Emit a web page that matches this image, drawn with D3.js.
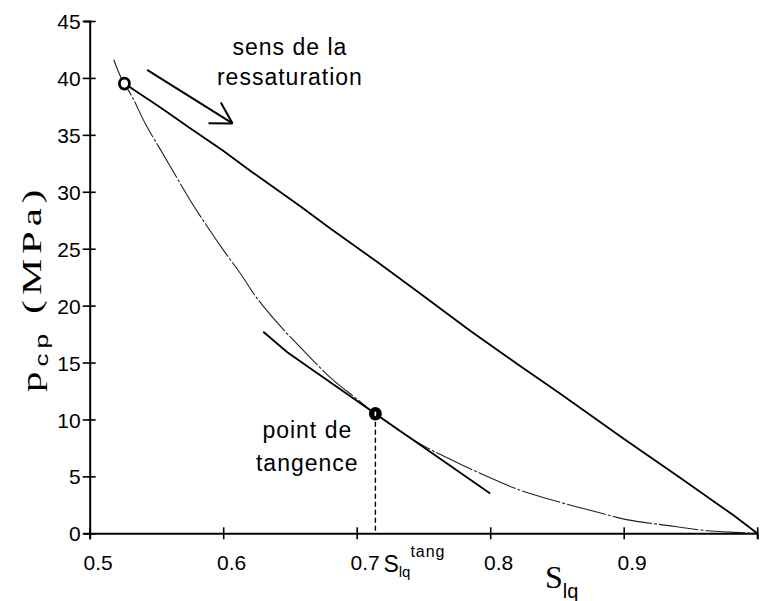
<!DOCTYPE html>
<html><head><meta charset="utf-8">
<script src="https://cdn.jsdelivr.net/npm/d3@7"></script>
<style>body{margin:0;background:#fff}svg{display:block}</style>
</head><body><svg id="c" width="760" height="601"></svg>
<script>
// ---- data ----
const xTicks = [0.5, 0.6, 0.7, 0.8, 0.9, 1.0];
const xTickLabels = ["0.5", "0.6", "0.7", "0.8", "0.9", ""];
const yTicks = [0, 5, 10, 15, 20, 25, 30, 35, 40, 45];

// resaturation path (upper line)
const resatX = [0.526,0.553,0.575,0.600,0.622,0.658,0.680,0.717,0.747,0.785,0.820,0.852,0.900,0.942,0.982,1.000];
const resatY = [39.5,37.4,35.6,33.6,31.7,28.7,26.8,23.7,21.1,17.8,14.9,12.3,8.3,4.9,1.6,0.0];

// thin convex curve
const curveX = [0.518,0.524,0.532,0.542,0.553,0.564,0.575,0.586,0.600,0.613,0.625,0.642,0.663,0.682,0.699,0.714,0.732,0.753,0.772,0.792,0.822,0.847,0.882,0.902,0.932,0.957,0.980,1.000];
const curveY = [41.6,39.9,38.3,35.9,33.7,31.5,29.3,27.3,24.9,22.8,20.7,18.3,15.7,13.5,11.9,10.5,9.0,7.5,6.4,5.3,3.8,2.9,1.8,1.2,0.7,0.3,0.1,0.0];

// tangent line
const tanX = [0.630, 0.648, 0.714, 0.800];
const tanY = [17.7, 15.9, 10.5, 3.5];

// special points
const startPoint = [0.526, 39.5];
const tangPoint = [0.714, 10.5];

// arrow "sens de la ressaturation"
const arrowX = [0.543, 0.607];
const arrowY = [40.7, 36.0];

// ---- layout ----
const svg = d3.select("#c");
const x = d3.scaleLinear().domain([0.5, 1.0]).range([89.7, 757.2]);
const y = d3.scaleLinear().domain([0, 45]).range([533.3, 21]);
const sans = "Arial, 'Liberation Sans', sans-serif";
const serif = "'Times New Roman', 'Liberation Serif', serif";

// axes
const xAxis = d3.axisBottom(x).tickValues(xTicks).tickSizeOuter(0).tickSize(6)
  .tickFormat((d, i) => xTickLabels[i]);
const gx = svg.append("g").attr("transform", `translate(0,${y(0)})`).call(xAxis);
gx.attr("font-size", 21).attr("font-family", sans);
gx.select(".domain").attr("stroke", "#000").attr("stroke-width", 2);
gx.selectAll(".tick line").attr("y1", -6).attr("y2", 6).attr("stroke-width", 1.6);
gx.selectAll(".tick text").attr("dx", 8).attr("y", 22).attr("dy", "0.71em").attr("fill", "#000");

const yAxis = d3.axisLeft(y).tickValues(yTicks).tickSizeOuter(0).tickSize(6).tickFormat(d3.format("d"));
const gy = svg.append("g").attr("transform", `translate(${x(0.5)},0)`).call(yAxis);
gy.attr("font-size", 21).attr("font-family", sans);
gy.select(".domain").attr("stroke", "#000").attr("stroke-width", 2);
gy.selectAll(".tick line").attr("x1", -7).attr("x2", 6).attr("stroke-width", 1.6);
gy.selectAll(".tick text").attr("x", -9).attr("dy", "0.36em").attr("fill", "#000");

const line = d3.line().x(d => x(d[0])).y(d => y(d[1]));

// thin curve
svg.append("path").datum(curveX.map((v, i) => [v, curveY[i]]))
  .attr("d", line.curve(d3.curveCatmullRom)).attr("fill", "none")
  .attr("stroke", "#222").attr("stroke-width", 1.1).attr("stroke-dasharray", "40,2,3,2");

// resaturation line
svg.append("path").datum(resatX.map((v, i) => [v, resatY[i]]))
  .attr("d", line.curve(d3.curveLinear)).attr("fill", "none")
  .attr("stroke", "#000").attr("stroke-width", 1.8);

// tangent line
svg.append("path").datum(tanX.map((v, i) => [v, tanY[i]]))
  .attr("d", line.curve(d3.curveLinear)).attr("fill", "none")
  .attr("stroke", "#000").attr("stroke-width", 1.8);

// dashed vertical
svg.append("line").attr("x1", x(tangPoint[0])).attr("x2", x(tangPoint[0]))
  .attr("y1", y(tangPoint[1])).attr("y2", y(0))
  .attr("stroke", "#000").attr("stroke-width", 1.4).attr("stroke-dasharray", "5,3");

// points
svg.append("ellipse").attr("cx", x(startPoint[0])).attr("cy", y(startPoint[1]))
  .attr("rx", 5).attr("ry", 5.5).attr("fill", "#fff").attr("stroke", "#000").attr("stroke-width", 2.8);
svg.append("ellipse").attr("cx", x(tangPoint[0])).attr("cy", y(tangPoint[1]))
  .attr("rx", 6.5).attr("ry", 6.8).attr("fill", "#000");
svg.append("ellipse").attr("cx", x(tangPoint[0])).attr("cy", y(tangPoint[1]))
  .attr("rx", 0.9).attr("ry", 2.6).attr("fill", "#fff");

// arrow
const ax0 = x(arrowX[0]), ay0 = y(arrowY[0]), ax1 = x(arrowX[1]), ay1 = y(arrowY[1]);
svg.append("line").attr("x1", ax0).attr("y1", ay0).attr("x2", ax1).attr("y2", ay1)
  .attr("stroke", "#000").attr("stroke-width", 2);
const ang = Math.atan2(ay1 - ay0, ax1 - ax0);
const hl = 24;
[Math.PI + ang - 0.55, Math.PI + ang + 0.5].forEach(a => {
  svg.append("line").attr("x1", ax1).attr("y1", ay1)
    .attr("x2", ax1 + hl * Math.cos(a)).attr("y2", ay1 + hl * Math.sin(a))
    .attr("stroke", "#000").attr("stroke-width", 2);
});

// annotations
const ann = svg.append("g").attr("font-family", sans).attr("font-size", 23)
  .attr("letter-spacing", 1).attr("text-anchor", "middle").attr("fill", "#000");
ann.append("text").attr("x", x(0.650)).attr("y", y(42.0)).text("sens de la");
ann.append("text").attr("x", x(0.650)).attr("y", y(39.4)).text("ressaturation");
ann.append("text").attr("x", x(0.663)).attr("y", y(8.4)).text("point de");
ann.append("text").attr("x", x(0.663)).attr("y", y(5.45)).text("tangence");

// S_lq^tang label
const st = svg.append("text").attr("font-family", sans).attr("fill", "#000")
  .attr("x", x(tangPoint[0]) + 8).attr("y", y(0) + 39);
st.append("tspan").attr("font-size", 23).text("S");
st.append("tspan").attr("font-size", 15).attr("dy", 5).text("lq");
st.append("tspan").attr("font-size", 16).attr("letter-spacing", 1)
  .attr("x", x(tangPoint[0]) + 35).attr("dy", -20).text("tang");

// x axis title
const xt = svg.append("text").attr("x", 545).attr("y", 588).attr("fill", "#000");
xt.append("tspan").attr("font-family", serif).attr("font-size", 32).text("S");
xt.append("tspan").attr("font-family", sans).attr("font-size", 20).attr("dy", 10).text("lq");

// y axis title
const yt = svg.append("text").attr("fill", "#000").attr("letter-spacing", 3.5)
  .attr("transform", "translate(41,392) rotate(-90) scale(1.45,1)");
yt.append("tspan").attr("font-family", serif).attr("font-size", 28).text("p");
yt.append("tspan").attr("font-family", sans).attr("font-size", 18).attr("dy", 7).text("cp");
yt.append("tspan").attr("font-family", serif).attr("font-size", 28).attr("dy", -7).text(" (MPa)");
</script>
</body></html>
